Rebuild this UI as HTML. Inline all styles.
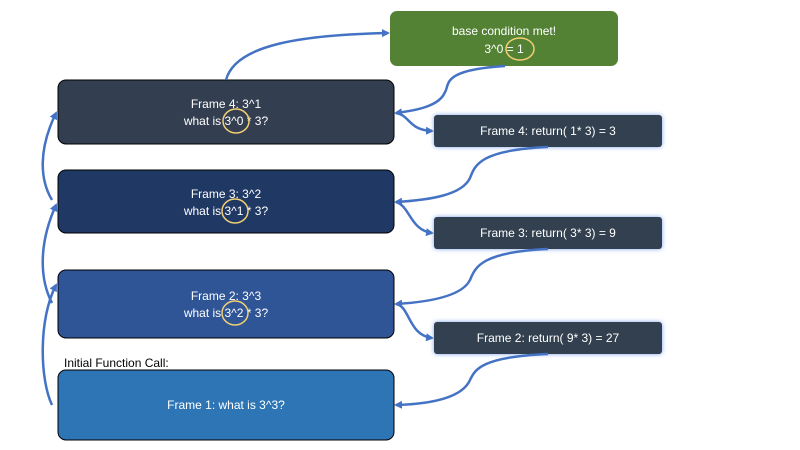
<!DOCTYPE html>
<html><head><meta charset="utf-8"><style>
html,body{margin:0;padding:0;background:#fff;}
svg{display:block;font-family:"Liberation Sans",sans-serif;}
</style></head><body>
<svg width="800" height="450" viewBox="0 0 800 450" xmlns="http://www.w3.org/2000/svg">
<defs>
<marker id="a" markerWidth="8" markerHeight="8" refX="6" refY="4" orient="auto" markerUnits="userSpaceOnUse">
<path d="M0,0 L8,4 L0,8 Z" fill="#4472c4"/></marker>
<filter id="g" x="-10%" y="-40%" width="120%" height="180%"><feDropShadow dx="0" dy="0" stdDeviation="2.5" flood-color="#7ea3f0" flood-opacity="1"/></filter>
</defs>
<!-- boxes -->
<rect x="390" y="11" width="228" height="55" rx="7" fill="#548235"/>
<rect x="58" y="80" width="336" height="64" rx="8" fill="#333f50" stroke="#000" stroke-width="1"/>
<rect x="58" y="170" width="336" height="63" rx="8" fill="#203864" stroke="#000" stroke-width="1"/>
<rect x="58" y="270" width="336" height="68" rx="8" fill="#2f5597" stroke="#000" stroke-width="1"/>
<rect x="58" y="370" width="336" height="70" rx="8" fill="#2e75b6" stroke="#000" stroke-width="1"/>
<g filter="url(#g)">
<rect x="434" y="115" width="228" height="32" rx="3" fill="#333f50"/>
<rect x="434" y="217" width="228" height="32" rx="3" fill="#333f50"/>
<rect x="434" y="322" width="228" height="32" rx="3" fill="#333f50"/>
</g>
<!-- text -->
<g fill="#fff" font-size="12" text-anchor="middle">
<text x="504" y="35">base condition met!</text>
<text x="504" y="53">3^0 = 1</text>
<text x="226" y="108">Frame 4: 3^1</text>
<text x="226" y="125">what is 3^0 * 3?</text>
<text x="226" y="198">Frame 3: 3^2</text>
<text x="226" y="215">what is 3^1 * 3?</text>
<text x="226" y="300">Frame 2: 3^3</text>
<text x="226" y="317">what is 3^2 * 3?</text>
<text x="226" y="409">Frame 1: what is 3^3?</text>
<text x="548" y="135">Frame 4: return( 1* 3) = 3</text>
<text x="548" y="237">Frame 3: return( 3* 3) = 9</text>
<text x="548" y="342">Frame 2: return( 9* 3) = 27</text>
</g>
<text x="64" y="367" font-size="12" fill="#000">Initial Function Call:</text>
<!-- circles -->
<g fill="none" stroke="#f2cf72" stroke-width="1.5">
<ellipse cx="236" cy="121" rx="13" ry="12"/>
<ellipse cx="235" cy="211" rx="13" ry="12"/>
<ellipse cx="235" cy="313" rx="13" ry="12"/>
<ellipse cx="520" cy="49" rx="14" ry="11"/>
</g>
<!-- connectors -->
<g fill="none" stroke="#4472c4" stroke-width="2.5">
<path d="M226,80 C235,45 300,35 388,33" marker-end="url(#a)"/>
<path d="M505,66 C440,70 450,85 445,92 C440,105 420,110 396,113" marker-end="url(#a)"/>
<path d="M396,113 C410,115 408,130 432,131" marker-end="url(#a)"/>
<path d="M548,147 C480,150 475,165 470,178 C462,195 430,200 396,202" marker-end="url(#a)"/>
<path d="M396,202 C410,206 410,230 432,233" marker-end="url(#a)"/>
<path d="M548,249 C480,252 475,268 470,280 C462,296 430,302 396,304" marker-end="url(#a)"/>
<path d="M396,304 C410,306 408,335 432,338" marker-end="url(#a)"/>
<path d="M548,354 C480,357 475,370 470,380 C462,398 430,404 396,405" marker-end="url(#a)"/>
<path d="M52,405 C40,380 38,320 56,285" marker-end="url(#a)"/>
<path d="M52,303 C40,280 38,245 56,205" marker-end="url(#a)"/>
<path d="M52,200 C40,180 38,150 56,113" marker-end="url(#a)"/>
</g>
</svg>
</body></html>
